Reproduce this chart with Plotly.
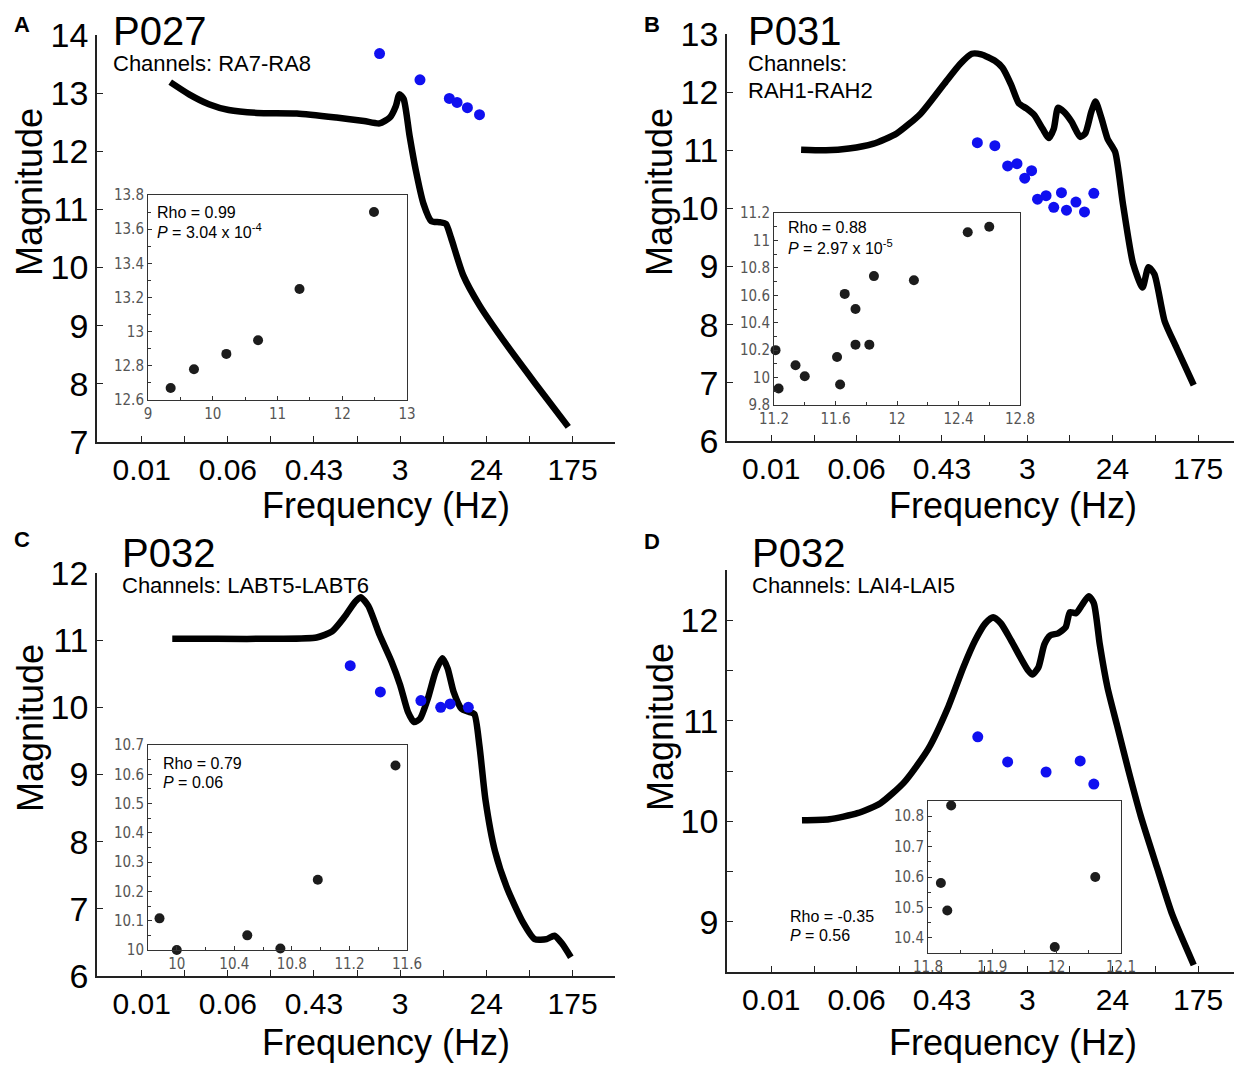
import plotly.graph_objects as go

W, H = 1242, 1067
OFF = 8  # the page body margin shifts the plot by this many pixels

# log frequency axis: tick positions (Hz) and the labels printed under them
TICK_HZ = [0.01, 0.0705, 0.497, 3.51, 24.7, 175]
TICK_TEXT = ["0.01", "0.06", "0.43", "3", "24", "175"]
MINOR_HZ = [0.0266, 0.187, 1.32, 9.32, 65.7]

# ---------- panel A : P027 ----------
A_FREQ = [0.0191, 0.0293, 0.0459, 0.0719, 0.137, 0.337, 0.826, 1.545, 2.198, 2.773,
          3.184, 3.443, 3.793, 4.345, 4.989, 5.943, 7.096, 8.61, 9.886, 11.12,
          14.62, 21.18, 39.54, 73.96, 158.5]
A_MAG = [13.19, 12.98, 12.81, 12.71, 12.66, 12.65, 12.58, 12.52, 12.48, 12.58,
         12.78, 12.98, 12.90, 12.26, 11.68, 11.10, 10.80, 10.78, 10.75, 10.51,
         9.87, 9.35, 8.66, 8.02, 7.26]
A_DOT_FREQ = [2.198, 5.495, 10.69, 12.74, 16.10, 21.18]
A_DOT_MAG = [13.68, 13.23, 12.91, 12.84, 12.75, 12.63]
A_IN_X = [9.35, 9.71, 10.21, 10.70, 11.34, 12.49]
A_IN_Y = [12.67, 12.78, 12.87, 12.95, 13.25, 13.70]

# ---------- panel B : P031 ----------
B_FREQ = [0.0198, 0.0349, 0.0592, 0.1023, 0.1767, 0.3055, 0.5176, 0.750, 0.986, 1.222,
          1.671, 1.991, 2.421, 2.886, 3.443, 4.105, 4.989, 5.718, 6.432, 7.096,
          8.128, 9.683, 11.78, 13.24, 15.20, 16.75, 19.19, 22.02, 26.25, 31.28,
          39.54, 49.09, 56.23, 64.42, 81.47, 107.2, 158.5]
B_MAG = [11.01, 11.00, 11.03, 11.11, 11.29, 11.63, 12.13, 12.48, 12.66, 12.65,
         12.54, 12.42, 12.13, 11.81, 11.72, 11.61, 11.37, 11.21, 11.37, 11.73,
         11.66, 11.49, 11.23, 11.29, 11.66, 11.84, 11.55, 11.20, 10.97, 10.09,
         9.05, 8.64, 8.99, 8.87, 8.06, 7.60, 6.96]
B_DOT_FREQ = [1.119, 1.671, 2.239, 2.773, 3.311, 3.873, 4.436, 5.395, 6.432, 7.674,
              8.61, 10.69, 13.00, 16.10]
B_DOT_MAG = [11.13, 11.08, 10.73, 10.77, 10.52, 10.65, 10.16, 10.22, 10.02, 10.27,
             9.97, 10.11, 9.94, 10.26]
B_IN_X = [11.21, 11.23, 11.34, 11.40, 11.61, 11.63, 11.66, 11.73, 11.73, 11.82,
          11.85, 12.11, 12.46, 12.60]
B_IN_Y = [10.20, 9.92, 10.09, 10.01, 10.15, 9.95, 10.61, 10.50, 10.24, 10.24,
          10.74, 10.71, 11.06, 11.10]

# ---------- panel C : P032 LABT5-LABT6 ----------
C_FREQ = [0.020, 0.0553, 0.2148, 0.5272, 0.750, 0.986, 1.246, 1.429, 1.702, 2.198,
          2.886, 3.509, 4.188, 4.800, 5.495, 6.561, 7.820, 9.141, 10.28, 11.78,
          14.06, 16.75, 18.84, 21.18, 24.26, 30.06, 39.54, 56.23, 73.96, 97.05,
          115.8, 138.0, 168.0]
C_MAG = [11.02, 11.02, 11.02, 11.04, 11.13, 11.34, 11.56, 11.64, 11.51, 11.08,
         10.68, 10.33, 9.93, 9.78, 9.83, 10.13, 10.53, 10.73, 10.58, 10.23,
         9.98, 9.93, 9.90, 9.42, 8.62, 7.86, 7.31, 6.81, 6.55, 6.55,
         6.60, 6.48, 6.28]
C_DOT_FREQ = [1.130, 2.239, 5.610, 8.79, 10.89, 16.44]
C_DOT_MAG = [10.62, 10.23, 10.10, 10.00, 10.05, 10.00]
C_IN_X = [9.88, 10.00, 10.49, 10.72, 10.98, 11.52]
C_IN_Y = [10.108, 10.0, 10.05, 10.005, 10.24, 10.63]

# ---------- panel D : P032 LAI4-LAI5 ----------
D_FREQ = [0.0202, 0.0378, 0.0719, 0.1219, 0.2104, 0.364, 0.5702, 0.811, 1.066, 1.346,
          1.607, 1.914, 2.421, 2.999, 3.580, 3.945, 4.525, 5.188, 5.943, 7.096,
          8.450, 9.312, 10.69, 12.25, 14.32, 16.10, 18.45, 22.02, 27.29, 35.89,
          47.20, 68.42, 97.05, 158.5]
D_MAG = [10.01, 10.02, 10.08, 10.18, 10.39, 10.72, 11.13, 11.53, 11.80, 11.97,
         12.03, 11.97, 11.80, 11.63, 11.50, 11.46, 11.53, 11.76, 11.85, 11.87,
         11.93, 12.08, 12.07, 12.15, 12.24, 12.17, 11.76, 11.33, 10.96, 10.49,
         10.05, 9.54, 9.07, 8.57]
D_DOT_FREQ = [1.130, 2.239, 5.395, 11.78, 16.10]
D_DOT_MAG = [10.84, 10.59, 10.49, 10.60, 10.37]
D_IN_X = [11.836, 11.82, 11.83, 11.997, 12.06]
D_IN_Y = [10.835, 10.58, 10.49, 10.37, 10.60]


MAIN_FONT = "Liberation Sans, Arial, sans-serif"
INSET_FONT = "Liberation Sans Narrow, Arial Narrow, DejaVu Sans Condensed, sans-serif"


def dom_x(a, b):
    return [(a - OFF) / W, (b - OFF) / W]


def dom_y(top, bottom):
    return [1 - (bottom - OFF) / H, 1 - (top - OFF) / H]


fig = go.Figure()


def main_panel(n, xpx, ypx, yrange, yminor, freq, mag, dfreq, dmag):
    xa = "x" if n == 1 else "x%d" % n
    ya = "y" if n == 1 else "y%d" % n

    fig.add_trace(go.Scatter(
        x=freq, y=mag, xaxis=xa, yaxis=ya, mode="lines",
        line=dict(color="black", width=6.5, shape="spline", smoothing=0.6),
        hoverinfo="skip"
    ))
    fig.add_trace(go.Scatter(
        x=dfreq, y=dmag, xaxis=xa, yaxis=ya, mode="markers",
        marker=dict(color="#1010f0", size=11), cliponaxis=False
    ))

    key = "" if n == 1 else str(n)
    fig.layout["xaxis" + key] = dict(
        domain=dom_x(*xpx), anchor=ya, type="log", range=[-2.44, 2.66],
        tickvals=TICK_HZ, ticktext=TICK_TEXT, automargin=False,
        ticks="inside", ticklen=6, tickwidth=1.2, tickcolor="#222",
        minor=dict(tickvals=MINOR_HZ, ticks="inside", ticklen=6, tickwidth=1.2, tickcolor="#222"),
        showline=True, linecolor="#222", linewidth=1.5, showgrid=False, zeroline=False,
        tickfont=dict(size=30, family=MAIN_FONT, color="black"),
    )
    ydict = dict(
        domain=dom_y(*ypx), anchor=xa, range=yrange, dtick=1, automargin=False,
        ticks="inside", ticklen=6, tickwidth=1.2, tickcolor="#222",
        showline=True, linecolor="#222", linewidth=1.5, showgrid=False, zeroline=False,
        tickfont=dict(size=34, family=MAIN_FONT, color="black"),
    )
    if yminor:
        ydict["minor"] = dict(dtick=0.5, ticks="inside", ticklen=6, tickwidth=1.2, tickcolor="#222")
    fig.layout["yaxis" + key] = ydict


def inset(n, xpx, ypx, xrange, xdtick, xminor, yrange, ydtick, yminor, xs, ys, xtick0=None, ytick0=None):
    xa, ya = "x%d" % n, "y%d" % n
    fig.add_trace(go.Scatter(
        x=xs, y=ys, xaxis=xa, yaxis=ya, mode="markers",
        marker=dict(color="#1c1c1c", size=10), cliponaxis=False
    ))
    common = dict(
        showline=True, mirror=True, linecolor="#333", linewidth=1,
        ticks="inside", ticklen=4, tickcolor="#333", automargin=False,
        showgrid=False, zeroline=False,
        tickfont=dict(size=15, family=INSET_FONT, color="#555"),
    )
    fig.layout["xaxis%d" % n] = dict(
        domain=dom_x(*xpx), anchor=ya, range=xrange, dtick=xdtick,
        tick0=xtick0 if xtick0 is not None else xrange[0],
        minor=dict(dtick=xminor, ticks="inside", ticklen=3, tickcolor="#333"),
        **common
    )
    fig.layout["yaxis%d" % n] = dict(
        domain=dom_y(*ypx), anchor=xa, range=yrange, dtick=ydtick,
        tick0=ytick0 if ytick0 is not None else yrange[0],
        minor=dict(dtick=yminor, ticks="inside", ticklen=3, tickcolor="#333"),
        **common
    )


# main panels
main_panel(1, (97, 615), (35, 442), [7, 14], False, A_FREQ, A_MAG, A_DOT_FREQ, A_DOT_MAG)
main_panel(2, (727, 1240), (34, 441), [6, 13], False, B_FREQ, B_MAG, B_DOT_FREQ, B_DOT_MAG)
main_panel(3, (97, 615), (573, 976), [6, 12], False, C_FREQ, C_MAG, C_DOT_FREQ, C_DOT_MAG)
main_panel(4, (727, 1240), (570, 972), [8.5, 12.5], True, D_FREQ, D_MAG, D_DOT_FREQ, D_DOT_MAG)

# insets
inset(5, (148, 407), (195, 400), [9, 13], 1, 0.5, [12.6, 13.8], 0.2, 0.1, A_IN_X, A_IN_Y)
inset(6, (774, 1020), (213, 405), [11.2, 12.8], 0.4, 0.2, [9.8, 11.2], 0.2, 0.1, B_IN_X, B_IN_Y)
inset(7, (148, 407), (745, 950), [9.8, 11.6], 0.4, 0.2, [10.0, 10.7], 0.1, 0.05, C_IN_X, C_IN_Y, xtick0=10)
inset(8, (928, 1121), (801, 953), [11.8, 12.1], 0.1, 0.05, [10.35, 10.85], 0.1, 0.05, D_IN_X, D_IN_Y, ytick0=10.4)


def text(x, y, s, size, xanchor="left", bold=False, angle=0, color="black"):
    if bold:
        s = "<b>%s</b>" % s
    fig.add_annotation(
        x=(x - OFF) / W, y=1 - (y - OFF) / H, xref="paper", yref="paper", text=s,
        showarrow=False, xanchor=xanchor, yanchor="middle", textangle=angle,
        font=dict(size=size, family=MAIN_FONT, color=color)
    )


# panel letters
text(22, 24, "A", 22, "center", bold=True)
text(652, 24, "B", 22, "center", bold=True)
text(22, 539, "C", 22, "center", bold=True)
text(652, 541, "D", 22, "center", bold=True)

# titles
text(111, 31, "P027", 40)
text(111, 63, "Channels: RA7-RA8", 22)
text(746, 31, "P031", 40)
text(746, 63, "Channels:", 22)
text(746, 90, "RAH1-RAH2", 22)
text(120, 553, "P032", 40)
text(120, 585, "Channels: LABT5-LABT6", 22)
text(750, 553, "P032", 40)
text(750, 585, "Channels: LAI4-LAI5", 22)

# axis titles
for cx, cy in [(30, 192), (660, 192), (30, 728), (660, 727)]:
    text(cx, cy, "Magnitude", 36, "center", angle=-90)
for cx, cy in [(386, 505), (1013, 505), (386, 1042), (1013, 1042)]:
    text(cx, cy, "Frequency (Hz)", 36, "center")

# correlation statistics
text(155, 212, "Rho = 0.99", 16)
text(155, 231, "<i>P</i> = 3.04 x 10<sup>-4</sup>", 16)
text(786, 228, "Rho = 0.88", 16)
text(786, 247, "<i>P</i> = 2.97 x 10<sup>-5</sup>", 16)
text(161, 763, "Rho = 0.79", 16)
text(161, 782, "<i>P</i> = 0.06", 16)
text(788, 916, "Rho = -0.35", 16)
text(788, 935, "<i>P</i> = 0.56", 16)

fig.update_layout(
    width=W, height=H,
    margin=dict(l=0, r=0, t=0, b=0),
    paper_bgcolor="white", plot_bgcolor="white",
    showlegend=False,
    font=dict(family=MAIN_FONT, color="black"),
)

fig.write_html("out.html")
